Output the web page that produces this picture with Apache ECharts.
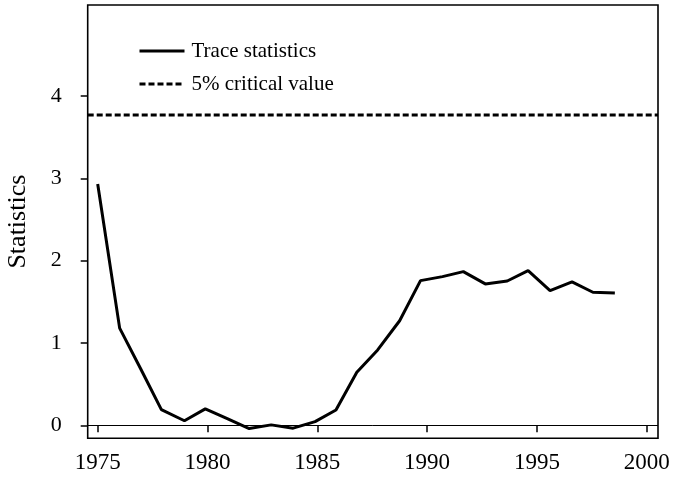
<!DOCTYPE html>
<html>
<head>
<meta charset="utf-8">
<script src="https://cdn.jsdelivr.net/npm/echarts@6/dist/echarts.min.js"></script>
<style>
	html, body { margin: 0; padding: 0; background: #fff; }
	#chart { width: 673px; height: 478px; }
</style>
</head>
<body>
<div id="chart"></div>
<script>
// trace statistic by year, critical value as dashed reference
var years = [1975.0, 1976.0, 1976.95, 1977.9, 1978.95, 1979.9, 1980.9, 1981.9, 1982.9, 1983.9,
	1984.9, 1985.85, 1986.8, 1987.75, 1988.75, 1989.7, 1990.7, 1991.65, 1992.65, 1993.65,
	1994.6, 1995.6, 1996.6, 1997.55, 1998.55]
var traceStats = [2.93, 1.18, 0.69, 0.19, 0.055, 0.2, 0.08, -0.04, 0.005, -0.035,
	0.045, 0.186, 0.645, 0.915, 1.27, 1.757, 1.806, 1.866, 1.717, 1.753,
	1.879, 1.636, 1.741, 1.616, 1.607]
var criticalValue = 3.77
var xTicks = [1975, 1980, 1985, 1990, 1995, 2000]
var yTicks = [0, 1, 2, 3, 4]

var xMin = 1974.545
var xMax = 2000.515
var yMin = -0.158
var yMax = 5.105

var font = 'Liberation Serif'

var chart = echarts.init(document.getElementById('chart'))

chart.setOption({
	backgroundColor: '#fff',
	animation: false,
	grid: {
		left: 87.7,
		right: 15,
		top: 5,
		bottom: 39.7,
		outerBoundsMode: 'none',
		show: true,
		borderColor: '#000',
		borderWidth: 1.6,
		backgroundColor: 'transparent'
	},
	legend: {
		orient: 'vertical',
		left: 138,
		top: 40.5,
		padding: 0,
		itemWidth: 45,
		itemHeight: 14,
		itemGap: 12,
		itemStyle: { opacity: 0 },
		lineStyle: { width: 3 },
		textStyle: {
			fontFamily: font,
			fontSize: 21,
			lineHeight: 21,
			color: '#000',
			padding: [0, 0, 0, 2]
		},
		data: ['Trace statistics', '5% critical value']
	},
	xAxis: {
		type: 'value',
		min: xMin,
		max: xMax,
		axisLine: { show: false },
		splitLine: { show: false },
		axisTick: {
			show: true,
			customValues: xTicks,
			length: 7,
			lineStyle: { color: '#000', width: 1.5 }
		},
		axisLabel: {
			customValues: xTicks,
			formatter: function (v) { return String(v) },
			margin: 13,
			fontFamily: font,
			fontSize: 23,
			color: '#000'
		}
	},
	yAxis: {
		type: 'value',
		min: yMin,
		max: yMax,
		name: 'Statistics',
		nameLocation: 'middle',
		nameGap: 57,
		nameTextStyle: {
			fontFamily: font,
			fontSize: 26,
			color: '#000'
		},
		axisLine: { show: false },
		splitLine: { show: false },
		axisTick: {
			show: true,
			customValues: yTicks,
			length: 7,
			lineStyle: { color: '#000', width: 1.5 }
		},
		axisLabel: {
			customValues: yTicks,
			margin: 26,
			fontFamily: font,
			fontSize: 22,
			color: '#000'
		}
	},
	series: [
		{
			name: 'Trace statistics',
			type: 'line',
			symbol: 'none',
			data: years.map(function (y, i) { return [y, traceStats[i]] }),
			lineStyle: { color: '#000', width: 3 },
			itemStyle: { color: '#000' },
			markLine: {
				silent: true,
				symbol: 'none',
				label: { show: false },
				lineStyle: { color: '#000', width: 1, type: 'solid' },
				data: [{ yAxis: 0 }]
			}
		},
		{
			name: '5% critical value',
			type: 'line',
			symbol: 'none',
			data: [[xMin, criticalValue], [xMax, criticalValue]],
			lineStyle: { color: '#000', width: 3, type: [6, 3] },
			itemStyle: { color: '#000' }
		}
	]
})
</script>
</body>
</html>
